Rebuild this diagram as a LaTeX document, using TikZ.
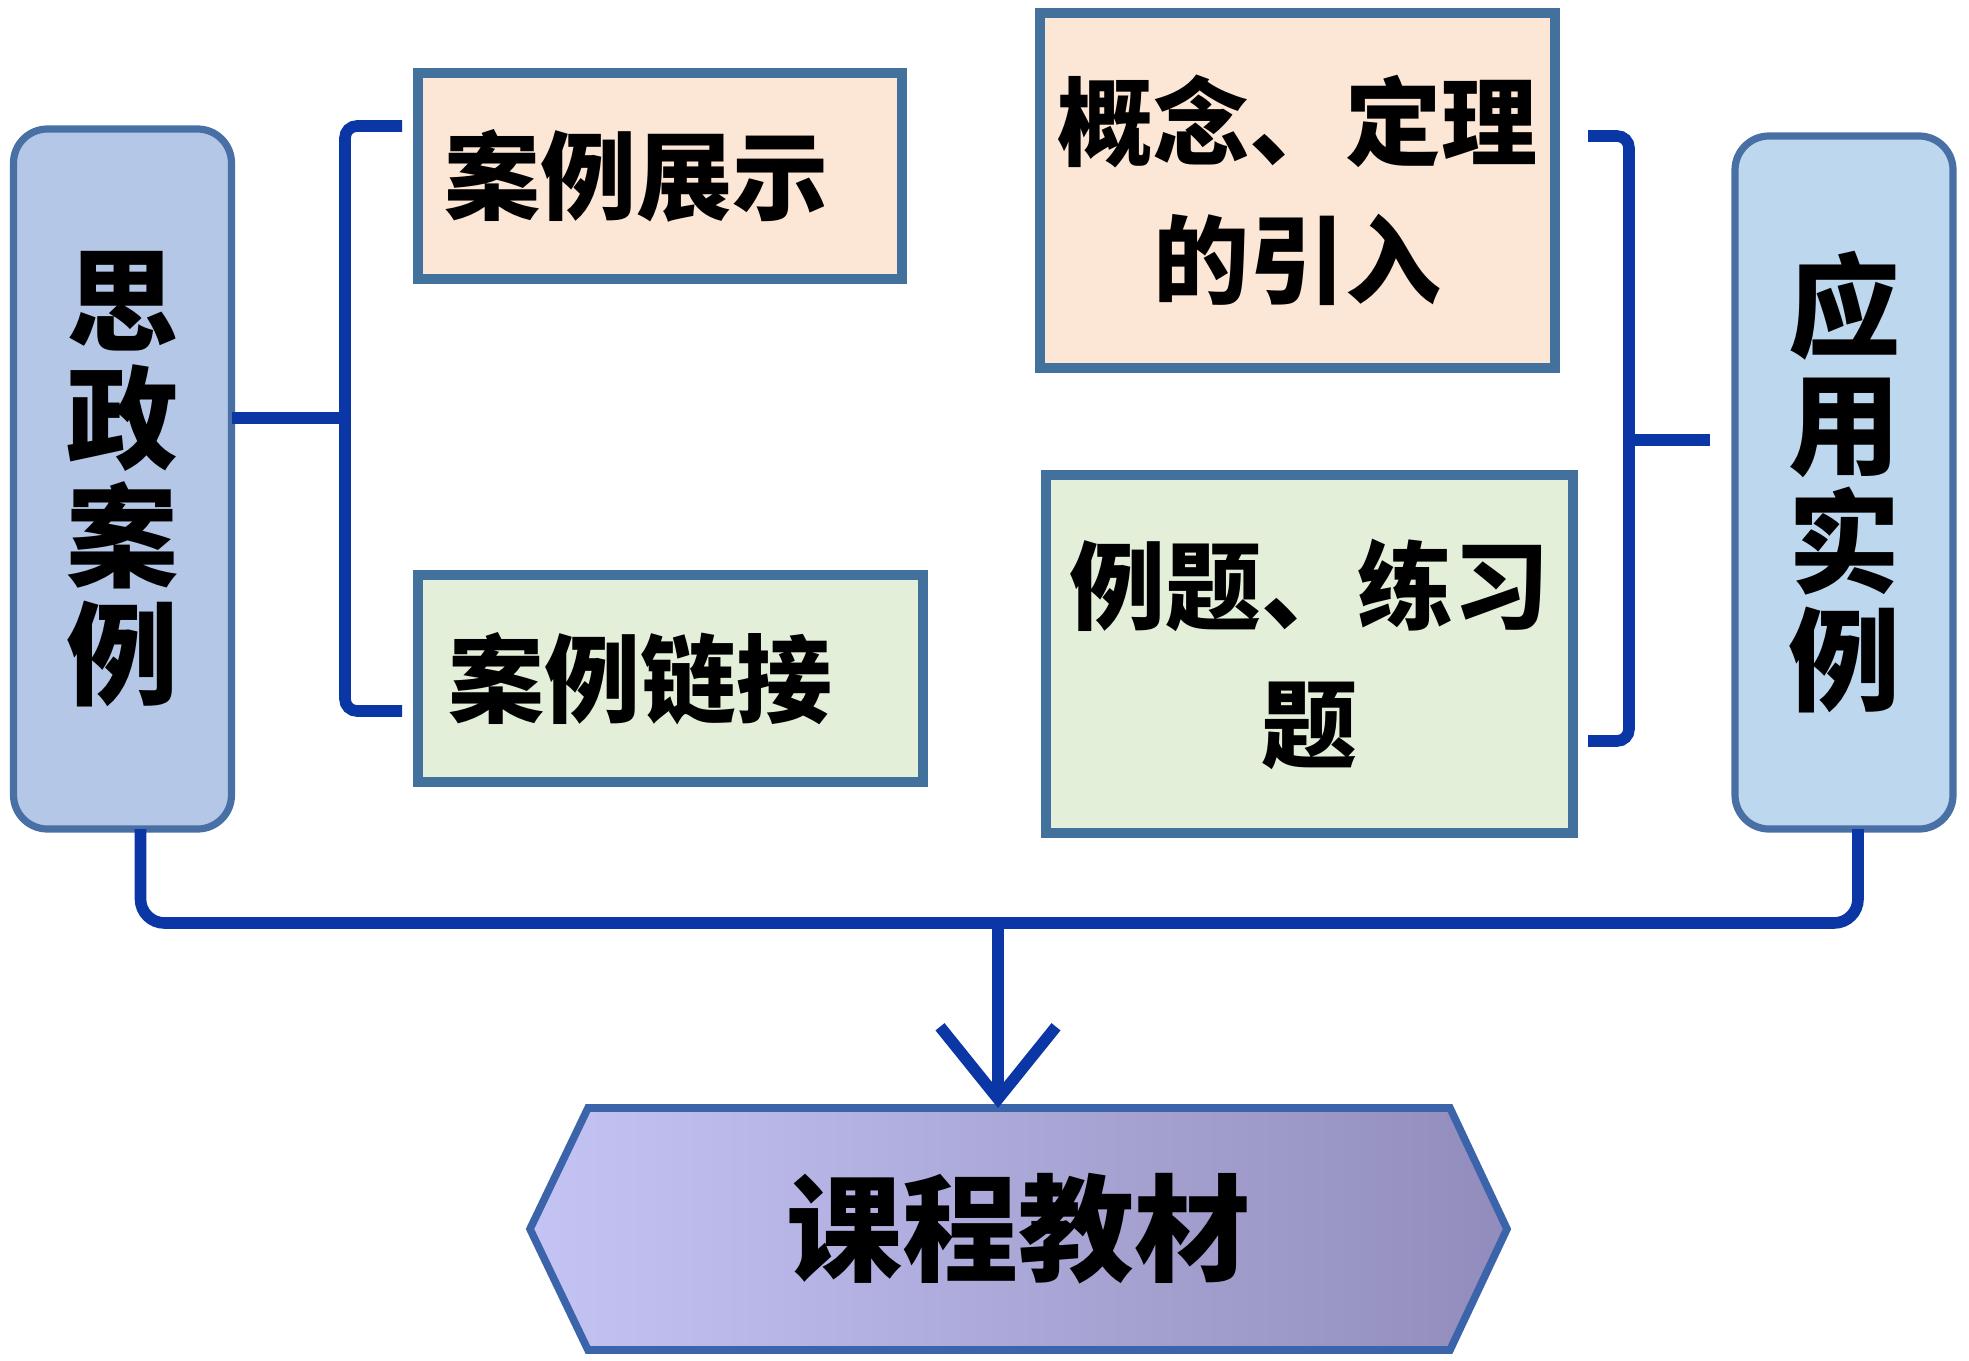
\documentclass[tikz,border=0pt]{standalone}
\usepackage{fontspec}
\setmainfont{Noto Sans CJK SC}
\usetikzlibrary{arrows.meta,calc,backgrounds}
\definecolor{boxborder}{RGB}{65,113,156}
\definecolor{sideborder}{RGB}{72,112,165}
\definecolor{linkblue}{RGB}{10,55,165}
\definecolor{peach}{RGB}{252,230,214}
\definecolor{lgreen}{RGB}{227,239,217}
\definecolor{lbfill}{RGB}{180,199,231}
\definecolor{rbfill}{RGB}{189,215,238}
\definecolor{hexL}{RGB}{196,196,244}
\definecolor{hexR}{RGB}{145,140,188}
\definecolor{hexborder}{RGB}{60,100,170}
\begin{document}
\begin{tikzpicture}[x=0.5pt,y=-0.5pt,
  every node/.style={inner sep=0pt, outer sep=0pt},
  sidebox/.style={draw=sideborder, line width=3.6pt, rounded corners=17pt, minimum width=109pt, align=center,
    font=\bfseries\fontsize{56}{59}\selectfont},
  midbox/.style={draw=boxborder, line width=4.8pt, align=center,
    font=\bfseries\fontsize{48}{69}\selectfont},
  link/.style={draw=linkblue, line width=5.8pt, rounded corners=6pt}]
\useasboundingbox (0,0) rectangle (1969,1360);

% side boxes
\node[sidebox, fill=lbfill, minimum height=350pt] (sz) at (122.5,479) {思\\政\\案\\例};
\node[sidebox, fill=rbfill, minimum height=346.5pt] (yy) at (1844,482.5) {应\\用\\实\\例};

% middle boxes
\node[midbox, fill=peach, minimum width=242pt, minimum height=103pt] (zs) at (660,176) {案例展示\hspace*{24pt}};
\node[midbox, fill=lgreen, minimum width=252.5pt, minimum height=103.5pt] (lj) at (670.5,678.5) {案例链接\hspace*{30pt}};
\node[midbox, fill=peach, minimum width=257.5pt, minimum height=177.5pt] (gn) at (1297.5,190.5) {概念、定理\\的引入};
\node[midbox, fill=lgreen, minimum width=263.5pt, minimum height=179pt] (lt) at (1309.5,654) {例题、练习\\题};

% bottom hexagon node
\node[minimum width=488.5pt, minimum height=121pt, font=\bfseries\fontsize{58}{60}\selectfont] (kc) at (1018.5,1229) {课程教材};
\begin{scope}[on background layer]
\shadedraw[left color=hexL, right color=hexR, draw=hexborder, line width=3.8pt]
  (kc.west) -- ($(kc.north west)+(58,0)$) -- ($(kc.north east)+(-57,0)$) -- (kc.east)
  -- ($(kc.south east)+(-57,0)$) -- ($(kc.south west)+(58,0)$) -- cycle;
\end{scope}

% left bracket
\coordinate (lbt) at (402,126);
\coordinate (lbm) at (345,418);
\coordinate (lbb) at (402,711);
\draw[link] (lbt) -| (lbm) |- (lbb);
\draw[link] (sz.east |- lbm) -- (lbm);

% right bracket
\coordinate (rbt) at (1588,136);
\coordinate (rbm) at (1629,440);
\coordinate (rbb) at (1588,741);
\draw[link] (rbt) -| (rbm) |- (rbb);
\draw[link, shorten >=12.5pt] (rbm) -- (yy.west |- rbm);

% bottom connector
\coordinate (jn) at (998,923);
\draw[link, rounded corners=12pt] ([xshift=9pt]sz.south) |- (jn) -| ([xshift=7pt]yy.south);
\draw[draw=linkblue, line width=5.8pt, -{Straight Barb[length=36pt,width=58pt]}] (jn) -- (jn |- kc.north);
\end{tikzpicture}
\end{document}
